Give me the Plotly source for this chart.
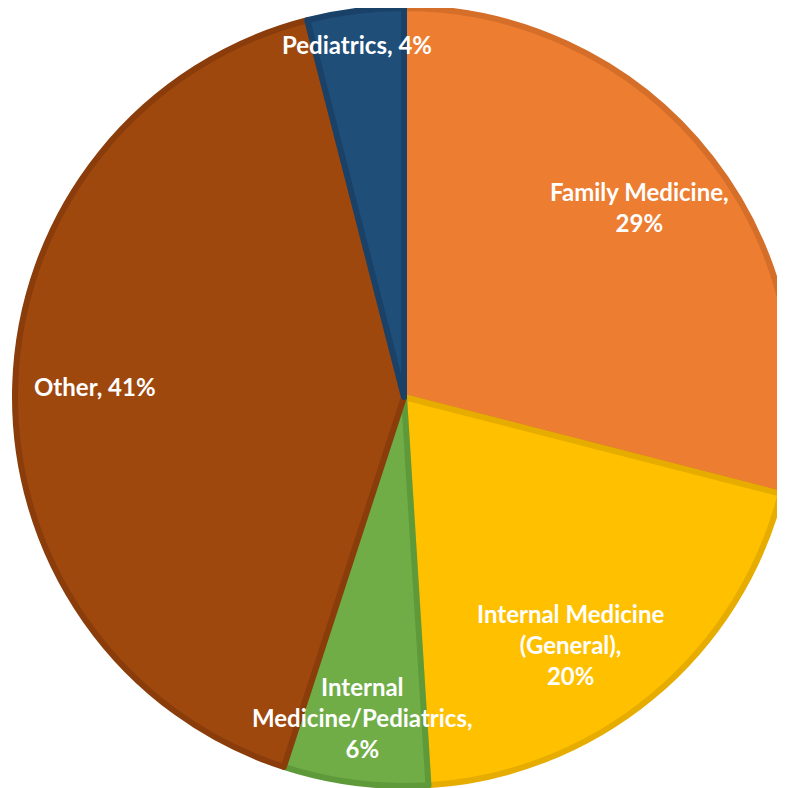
import plotly.graph_objects as go

# Slices in clockwise order starting at 12 o'clock
specialties = ["Family Medicine", "Internal Medicine (General)",
               "Internal Medicine/Pediatrics", "Other", "Pediatrics"]
shares = [29, 20, 6, 41, 4]

slice_colors = ["#ED7D31", "#FFC000", "#70AD47", "#9E480E", "#1F4E79"]
edge_colors = ["#D46E29", "#E6AC00", "#5F9A3A", "#8A3D0B", "#1A4268"]

# label text and where it sits (paper fraction)
label_texts = ["Family Medicine,<br>29%",
               "Internal Medicine<br>(General),<br>20%",
               "Internal<br>Medicine/Pediatrics,<br>6%",
               "Other, 41%",
               "Pediatrics, 4%"]
label_x = [0.805, 0.716, 0.451, 0.111, 0.445]
label_y = [0.748, 0.192, 0.099, 0.520, 0.954]

W, H = 785, 788

fig = go.Figure(go.Pie(
    labels=specialties,
    values=shares,
    sort=False,
    direction="clockwise",
    rotation=0,
    textinfo="none",
    hoverinfo="label+percent",
    marker=dict(colors=slice_colors, line=dict(color=edge_colors, width=6)),
    domain=dict(x=[7 / W, 1], y=[1 - 778 / H, 1]),
    showlegend=False,
))

for txt, x, y in zip(label_texts, label_x, label_y):
    fig.add_annotation(
        text=txt, x=x, y=y, xref="paper", yref="paper",
        xanchor="center", yanchor="middle",
        showarrow=False, align="center",
        font=dict(family="Lato, Open Sans, sans-serif", size=24,
                  color="white", weight="bold"),
    )

fig.update_layout(
    width=W, height=H,
    margin=dict(l=0, r=0, t=0, b=0),
    paper_bgcolor="white",
    plot_bgcolor="white",
)

fig.write_html("out.html")
